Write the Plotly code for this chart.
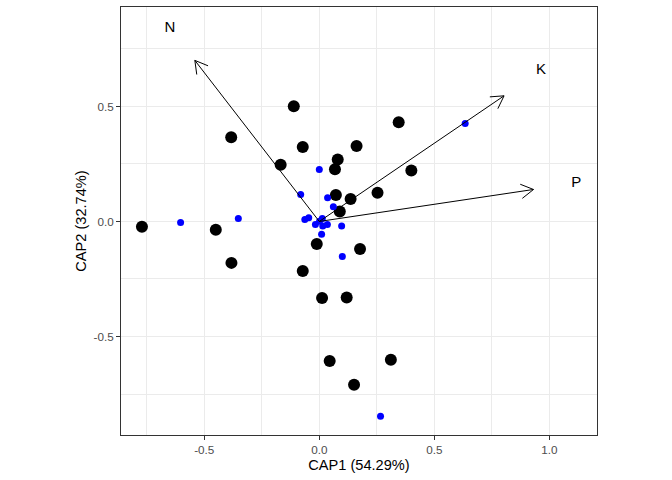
import numpy as np
import plotly.graph_objects as go

# Site scores (large black points)
site_x = [-0.771, -0.450, -0.382, -0.383, -0.111, -0.168, -0.072, 0.080, 0.068, 0.162,
          0.345, 0.400, 0.072, 0.136, 0.089, 0.253, -0.011, 0.177, -0.072, 0.012,
          0.119, 0.045, 0.311, 0.151]
site_y = [-0.023, -0.036, -0.180, 0.366, 0.501, 0.246, 0.324, 0.269, 0.227, 0.328,
          0.431, 0.221, 0.115, 0.098, 0.043, 0.125, -0.098, -0.120, -0.215, -0.333,
          -0.330, -0.606, -0.601, -0.710]

# Species scores (small blue points)
sp_x = [-0.603, -0.352, 0.000, -0.081, 0.036, 0.061, -0.063, -0.046, 0.013, -0.017,
        0.015, 0.035, 0.097, 0.010, 0.100, 0.634, 0.266, 0.001]
sp_y = [-0.004, 0.013, 0.226, 0.117, 0.103, 0.064, 0.009, 0.016, 0.013, -0.013,
        -0.020, -0.013, -0.020, -0.056, -0.152, 0.426, -0.847, 0.001]

# Environmental vectors
env_names = ["N", "K", "P"]
env_x = [-0.541, 0.803, 0.931]
env_y = [0.700, 0.546, 0.139]
label_mult = 1.2

x_ticks = [-0.5, 0.0, 0.5, 1.0]
x_ticktext = ["-0.5", "0.0", "0.5", "1.0"]
y_ticks = [-0.5, 0.0, 0.5]
y_ticktext = ["-0.5", "0.0", "0.5"]

fig = go.Figure()

fig.add_trace(go.Scatter(x=site_x, y=site_y, mode="markers",
                         marker=dict(color="black", size=12, line=dict(width=0)),
                         hoverinfo="skip"))
fig.add_trace(go.Scatter(x=sp_x, y=sp_y, mode="markers",
                         marker=dict(color="#0000FF", size=7, line=dict(width=0)),
                         hoverinfo="skip"))

# arrows: shafts and open heads
head_len = 0.062
ang = np.deg2rad(30)
lx, ly = [], []
for tx, ty in zip(env_x, env_y):
    lx += [0, tx, None]
    ly += [0, ty, None]
    n = np.hypot(tx, ty)
    dx, dy = tx / n, ty / n
    for s in (1, -1):
        c, si = np.cos(s * ang), np.sin(s * ang)
        rx = dx * c - dy * si
        ry = dx * si + dy * c
        lx += [tx - head_len * rx, tx, None]
        ly += [ty - head_len * ry, ty, None]
fig.add_trace(go.Scatter(x=lx, y=ly, mode="lines",
                         line=dict(color="black", width=1), hoverinfo="skip"))

fig.add_trace(go.Scatter(x=[v * label_mult for v in env_x],
                         y=[v * label_mult for v in env_y],
                         mode="text", text=env_names,
                         textfont=dict(family="Liberation Sans, Arial", size=15, color="black"),
                         hoverinfo="skip"))

axis_common = dict(
    showgrid=True, gridcolor="#EBEBEB", gridwidth=1.1,
    zeroline=False, showline=True, linecolor="#333333", linewidth=1, mirror=True,
    ticks="outside", ticklen=4, tickcolor="#333333", tickwidth=1,
    tickfont=dict(family="Liberation Sans, Arial", size=11.7, color="#4D4D4D"),
    automargin=False,
)

fig.update_xaxes(**axis_common, range=[-0.862, 1.207], tickvals=x_ticks, ticktext=x_ticktext,
                 minor=dict(tickvals=[-0.75, -0.25, 0.25, 0.75], showgrid=True,
                            gridcolor="#EBEBEB", gridwidth=0.55, ticks=""),
                 title=dict(text="CAP1 (54.29%)", standoff=4,
                            font=dict(family="Liberation Sans, Arial", size=14.6, color="black")))
fig.update_yaxes(**axis_common, range=[-0.928, 0.932], tickvals=y_ticks, ticktext=y_ticktext,
                 minor=dict(tickvals=[-0.75, -0.25, 0.25, 0.75], showgrid=True,
                            gridcolor="#EBEBEB", gridwidth=0.55, ticks=""),
                 title=dict(text="CAP2 (32.74%)", standoff=3,
                            font=dict(family="Liberation Sans, Arial", size=14.6, color="black")))

fig.update_layout(
    width=672, height=480,
    margin=dict(l=121, r=75, t=7, b=45),
    paper_bgcolor="white", plot_bgcolor="white",
    showlegend=False,
)

fig.write_html("out.html", config={"displayModeBar": False},
               post_script="document.body.style.margin='0';")
